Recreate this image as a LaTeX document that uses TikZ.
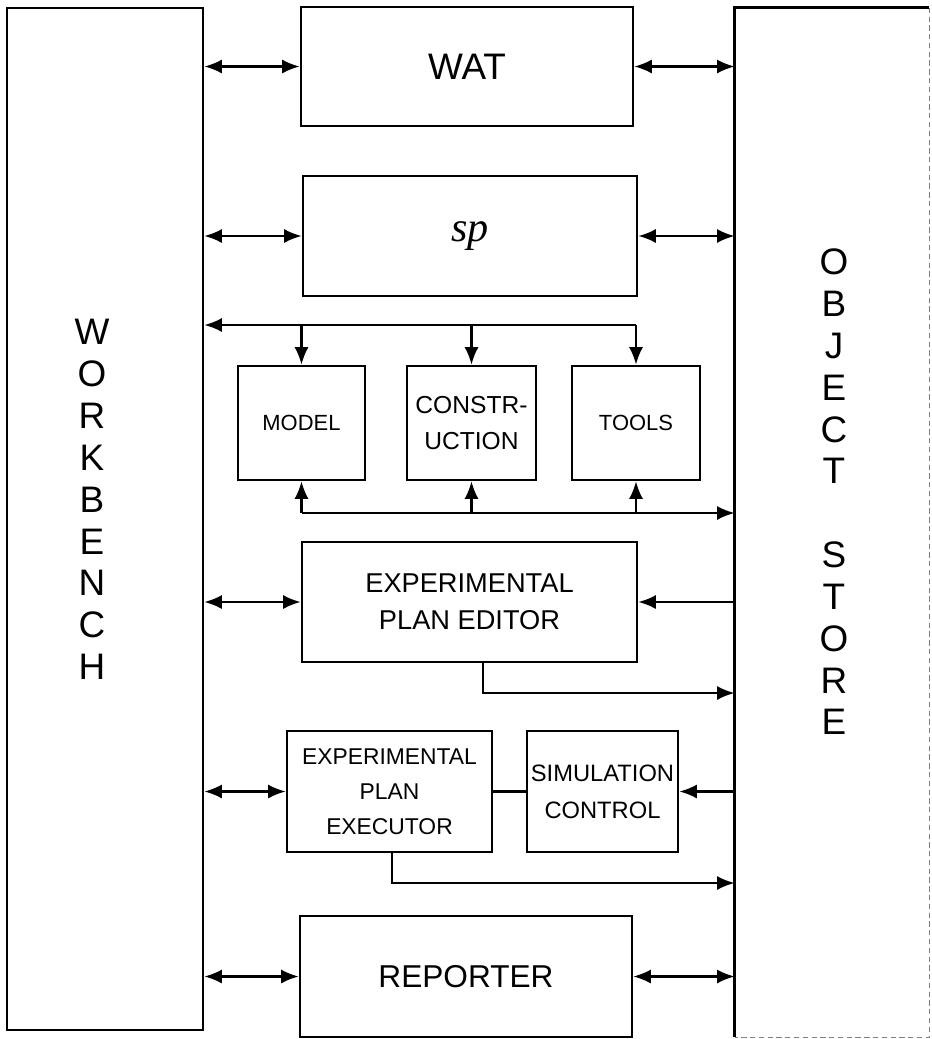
\documentclass[tikz,border=0pt]{standalone}
\usepackage{fontspec}
\setmainfont{Liberation Sans}
\newfontfamily\spfont{Liberation Serif}
\usetikzlibrary{arrows.meta}

\begin{document}
\begin{tikzpicture}[
    x=0.02cm, y=-0.02cm,
    box/.style={draw, line width=1.5pt, inner sep=0pt, align=center},
    conn/.style={line width=1.3pt, -{Latex[length=10pt,width=8pt]}},
    both/.style={line width=1.3pt, {Latex[length=10pt,width=8pt]}-{Latex[length=10pt,width=8pt]}},
    plain/.style={line width=1.3pt},
    column/.style={align=center, font=\fontsize{21}{23.8}\selectfont}
]
\useasboundingbox (0,0) rectangle (932,1039);

% side blocks
\node[box, minimum width=3.92cm, minimum height=20.44cm] (wb) at (105,519) {};
\node[column] (wbtext) at (92,499.5) {W\\O\\R\\K\\B\\E\\N\\C\\H};
\node[inner sep=0pt, minimum width=3.88cm, minimum height=20.58cm] (store) at (832,522.5) {};
\draw[line width=1.5pt] (store.south west) -- (store.north west) -- (store.north east);
\draw[gray, densely dashed, line width=0.5pt] (store.north east) -- (store.south east) -- (store.south west);
\node[column] (storetext) at (834,492) {O\\B\\J\\E\\C\\T\\[23.8pt]S\\T\\O\\R\\E};

% middle blocks
\node[box, minimum width=6.64cm, minimum height=2.38cm, font=\fontsize{21}{25}\selectfont] (wat) at (467,66.5) {WAT};
\node[box, minimum width=6.68cm, minimum height=2.4cm, font=\spfont\itshape\fontsize{24}{28}\selectfont] (sp) at (470,236) {sp};
\node[box, minimum width=2.54cm, minimum height=2.28cm, font=\fontsize{12.5}{20}\selectfont] (model) at (301.5,423) {MODEL};
\node[box, minimum width=2.58cm, minimum height=2.28cm, font=\fontsize{14}{20}\selectfont] (constr) at (471.5,423) {CONSTR-\\UCTION};
\node[box, minimum width=2.56cm, minimum height=2.28cm, font=\fontsize{12.5}{20}\selectfont] (tools) at (636,423) {TOOLS};
\node[box, minimum width=6.70cm, minimum height=2.4cm, font=\fontsize{15.5}{21}\selectfont] (editor) at (469.5,602) {EXPERIMENTAL\\PLAN EDITOR};
\node[box, minimum width=4.10cm, minimum height=2.42cm, font=\fontsize{13}{20}\selectfont] (executor) at (389.5,791.5) {EXPERIMENTAL\\PLAN\\EXECUTOR};
\node[box, minimum width=3.02cm, minimum height=2.42cm, font=\fontsize{13.5}{21}\selectfont] (simctl) at (602.5,791.5) {SIMULATION\\CONTROL};
\node[box, minimum width=6.64cm, minimum height=2.42cm, font=\fontsize{18}{22}\selectfont] (reporter) at (466,976.5) {REPORTER};

% top links
\draw[both] (wb.east |- wat.west) -- (wat.west);
\draw[both] (wat.east) -- (wat.east -| store.west);
\draw[both] (wb.east |- sp.west) -- (sp.west);
\draw[both] (sp.east) -- (sp.east -| store.west);

% buses round the three small boxes
\coordinate (bus1) at (0,325);
\coordinate (bus2) at (0,513);
\draw[conn] (tools.north |- bus1) -- (bus1 -| wb.east);
\foreach \n in {model,constr,tools} {
  \draw[conn] (\n.north |- bus1) -- (\n.north);
  \draw[conn] (\n.south |- bus2) -- (\n.south);
}
\draw[conn] (model.south |- bus2) -- (bus2 -| store.west);

% plan editor
\draw[both] (wb.east |- editor.west) -- (editor.west);
\draw[conn] (editor.east -| store.west) -- (editor.east);
\coordinate (edout) at (483,693);
\draw[conn] (edout |- editor.south) -- (edout) -- (edout -| store.west);

% plan executor
\draw[both] (wb.east |- executor.west) -- (executor.west);
\draw[plain] (executor.east) -- (simctl.west);
\draw[conn] (simctl.east -| store.west) -- (simctl.east);
\coordinate (exout) at (392,883);
\draw[conn] (exout |- executor.south) -- (exout) -- (exout -| store.west);

% reporter
\draw[both] (wb.east |- reporter.west) -- (reporter.west);
\draw[both] (reporter.east) -- (reporter.east -| store.west);
\end{tikzpicture}
\end{document}
